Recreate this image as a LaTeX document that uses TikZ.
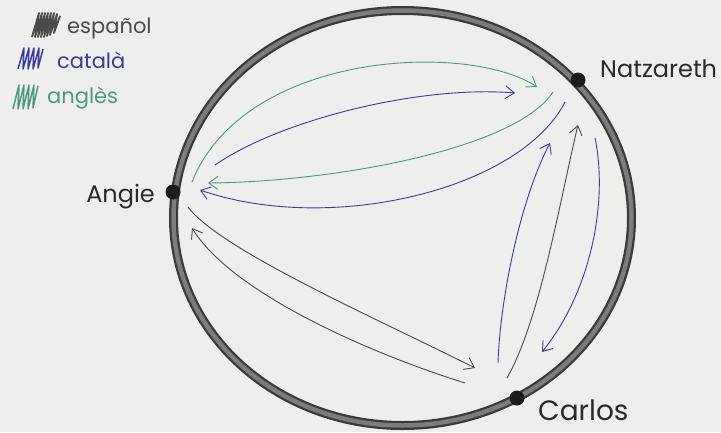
\documentclass[tikz,border=0pt]{standalone}
\usepackage{fontspec}
\setmainfont{Poppins}
\usetikzlibrary{arrows.meta}
\definecolor{paper}{HTML}{EEEEEC}
\definecolor{ringdark}{HTML}{3A3A3A}
\definecolor{ringmid}{HTML}{7C7C7C}
\definecolor{esgray}{HTML}{4A4A4A}
\definecolor{cablue}{HTML}{3B3B9E}
\definecolor{engreen}{HTML}{4E9A7E}
\definecolor{ink}{HTML}{2A2A2A}
\definecolor{dotblack}{HTML}{1C1C1C}
\begin{document}
\begin{tikzpicture}[x=1pt,y=-1pt,
  tip/.style={-{Straight Barb[length=9pt,width=13pt,line width=0.9pt]}},
  es/.style={draw=esgray, line width=0.9pt, tip},
  ca/.style={draw=cablue, line width=0.9pt, tip},
  en/.style={draw=engreen, line width=0.9pt, tip},
  lbl/.style={font=\fontsize{24}{28}\selectfont, text=ink, inner sep=0pt},
  leg/.style={font=\fontsize{21}{25}\selectfont, inner sep=0pt, anchor=base west},
  dotmark/.style={circle, fill=dotblack, minimum size=15pt, inner sep=0pt},
  hatch/.style={line width=1.5pt, line join=round}]
\fill[paper] (0,0) rectangle (721,432);
\useasboundingbox (0,0) rectangle (721,432);

% legend
\draw[hatch, esgray, line width=1.8pt] (32,37) -- (39,13) -- (35,37) -- (42,13) -- (38,37) -- (45,13) -- (41,37) -- (48,13) -- (44,37) -- (51,13) -- (47,36) -- (54,13) -- (50,35) -- (57,14) -- (54,33) -- (60,16);
\node[leg, text=esgray] (l1) at (67,33) {español};
\draw[hatch, cablue] (18,69) -- (24,48) -- (23,69) -- (29,48) -- (28,69) -- (34,48) -- (33,69) -- (39,48) -- (38,68) -- (43,49);
\node[leg, text=cablue] (l2) at (57,68) {català};
\draw[hatch, engreen] (13,109) -- (19,85) -- (18,109) -- (24,85) -- (23,109) -- (29,85) -- (28,109) -- (34,85) -- (33,108) -- (38,86);
\node[leg, text=engreen] (l3) at (47,103) {anglès};

% ring
\draw[ringdark, line width=9pt] (402.5,218) ellipse [x radius=229, y radius=207.5];
\draw[ringmid, line width=4.5pt] (402.5,218) ellipse [x radius=229, y radius=207.5];

% people
\node[dotmark] (N) at (578,80) {};
\node[dotmark] (A) at (173,192) {};
\node[dotmark] (C) at (517,398) {};
\node[lbl, anchor=base west] (Nl) at (600,77) {Natzareth};
\node[lbl, anchor=base east] (Al) at (155,202) {Angie};
\node[lbl, anchor=base west, font=\fontsize{28}{30}\selectfont] (Cl) at (538,420) {Carlos};

% endpoints
\coordinate (g1s) at (192,182); \coordinate (g1e) at (537,87);
\coordinate (g2s) at (553,92);  \coordinate (g2e) at (208,183);
\coordinate (b1s) at (215,165); \coordinate (b1e) at (515,93);
\coordinate (b2s) at (565,102); \coordinate (b2e) at (200,190);
\coordinate (b3s) at (498,363); \coordinate (b3e) at (550,143);
\coordinate (b4s) at (595,138); \coordinate (b4e) at (542,352);
\coordinate (e1s) at (507,378); \coordinate (e1e) at (578,125);
\coordinate (e2s) at (188,207); \coordinate (e2e) at (475,368);
\coordinate (e3s) at (465,383); \coordinate (e3e) at (192,228);

% anglès
\draw[en] (g1s) .. controls (245,50) and (470,42) .. (g1e);
\draw[en] (g2s) .. controls (515,150) and (330,182) .. (g2e);
% català
\draw[ca] (b1s) .. controls (280,120) and (420,85) .. (b1e);
\draw[ca] (b2s) .. controls (520,190) and (330,235) .. (b2e);
\draw[ca] (b3s) .. controls (500,300) and (520,200) .. (b3e);
\draw[ca] (b4s) .. controls (608,200) and (592,290) .. (b4e);
% español
\draw[es] (e1s) .. controls (540,320) and (560,200) .. (e1e);
\draw[es] (e2s) .. controls (220,250) and (380,320) .. (e2e);
\draw[es] (e3s) .. controls (360,350) and (230,290) .. (e3e);
\end{tikzpicture}
\end{document}
